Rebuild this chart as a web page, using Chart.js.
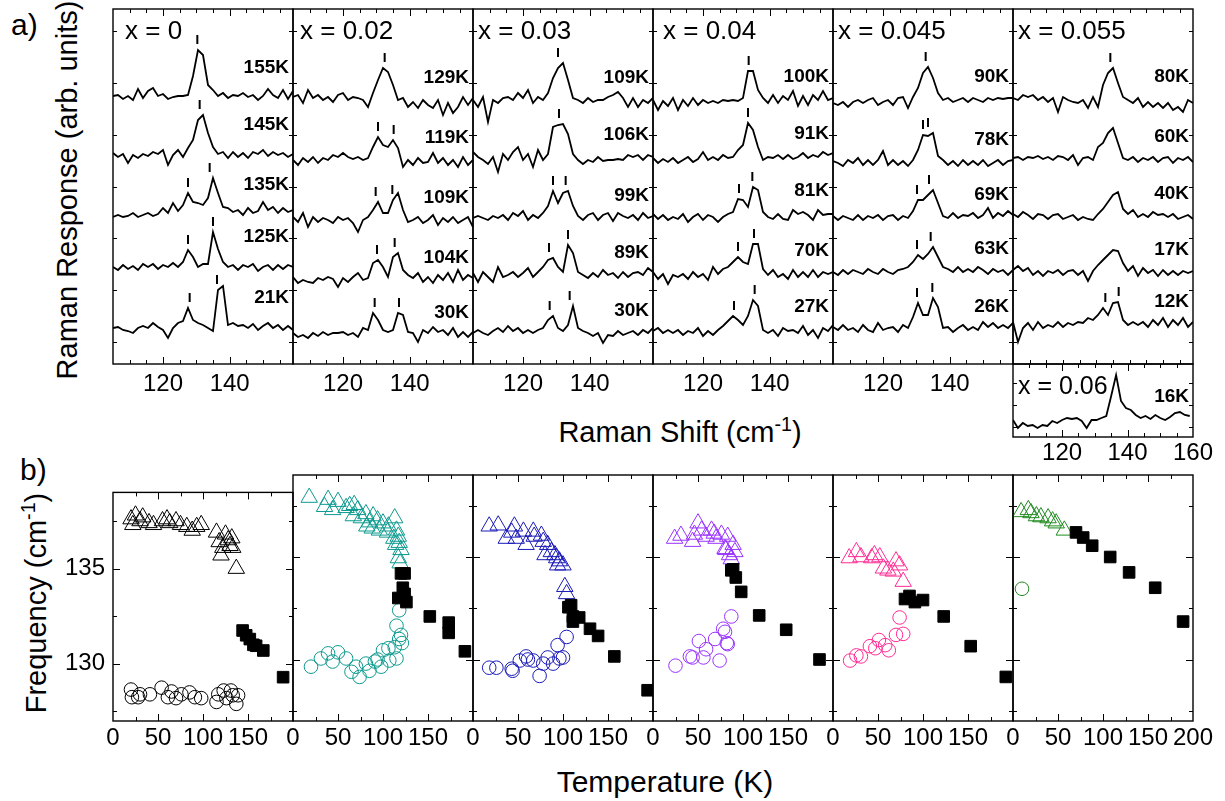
<!DOCTYPE html>
<html lang="en">
<head>
<meta charset="UTF-8">
<title>Raman spectra and phonon frequencies</title>
<style>
  body { margin: 0; background: #fff; }
  #fig { position: relative; width: 1225px; height: 801px; overflow: hidden;
         font-family: "Liberation Sans", Arial, Helvetica, sans-serif; color: #000; }
  #fig canvas { position: absolute; }
  .lbl { position: absolute; white-space: nowrap; line-height: 1; }
  .rot { transform: translate(-50%, -50%) rotate(-90deg); }
  .mid { transform: translate(-50%, -50%); }
  sup { font-size: 0.68em; vertical-align: super; line-height: 0; }
</style>
</head>
<body>
<div id="fig">
  <div class="lbl" style="left:11px;top:10px;font-size:30px">a)</div>
  <div class="lbl" style="left:20px;top:455px;font-size:30px">b)</div>
  <div class="lbl rot" style="left:67px;top:190px;font-size:29px">Raman Response (arb. units)</div>
  <div class="lbl mid" style="left:680px;top:432px;font-size:29px">Raman Shift (cm<sup>-1</sup>)</div>
  <div class="lbl rot" style="left:36px;top:603px;font-size:29px">Frequency (cm<sup>-1</sup>)</div>
  <div class="lbl mid" style="left:665px;top:782px;font-size:30px">Temperature (K)</div>
</div>
<script src="https://cdn.jsdelivr.net/npm/chart.js"></script>
<script>
// Raman shift grid (cm-1) shared by every spectrum
const shift = [105, 106.5, 108, 109.5, 111, 112.5, 114, 115.5, 117, 118.5, 120, 121.5, 123, 124.5, 126,
  127.5, 129, 130.5, 132, 133.5, 135, 136.5, 138, 139.5, 141, 142.5, 144, 145.5, 147, 148.5, 150,
  151.5, 153, 154.5, 156, 157.5, 159];

// x = 0 spectra (intensity above own baseline)
const s0_155 = [2,3,-1,2,-2,9,0,7,10,2,4,-1,1,2,2,3,22,48,43,13,8,2,5,0,3,2,5,1,3,-2,2,9,3,0,8,-1,7];
const s0_145 = [2,-2,1,-8,0,-3,1,-1,3,1,5,-10,0,5,-2,7,15,35,40,22,8,1,3,-3,3,-2,2,-3,3,1,5,-1,3,0,2,-2,1];
const s0_135 = [-2,0,-2,-1,2,-2,0,2,-1,1,7,2,12,4,10,22,13,12,10,17,37,22,8,7,3,5,0,7,2,4,13,5,8,2,7,3,5];
const s0_125 = [0,-3,2,-2,1,-3,3,0,3,-2,2,0,4,0,5,17,10,0,3,3,35,18,5,0,2,-3,2,0,3,-4,0,2,-3,2,-2,2,0];
const s0_21  = [0,1,-2,-3,-5,0,2,0,5,1,-2,-10,0,5,7,20,8,5,3,0,-3,38,42,3,5,2,3,0,4,-2,2,5,0,3,-2,2,-2];

// x = 0.02
const s2_129 = [3,5,-3,10,2,5,0,3,-2,5,7,0,3,2,0,-7,7,20,32,28,15,0,2,-7,-2,-8,0,-5,-8,0,-15,-3,-13,-7,3,-5,2];
const s2_119 = [0,-5,2,-2,3,-3,2,0,5,3,7,3,1,3,0,2,13,23,15,13,20,12,-7,0,-5,2,-3,-2,7,-3,2,-5,0,-7,3,-5,0];
const s2_109 = [3,-2,7,-7,3,-2,2,0,-3,3,0,2,-3,-12,0,3,10,18,7,7,20,27,10,-2,0,3,-3,0,5,-5,2,-2,3,-3,0,3,-7];
const s2_104 = [3,-3,0,-2,-3,2,0,3,1,-7,2,-2,3,7,0,2,17,20,13,3,23,27,10,5,2,7,-2,3,-3,5,0,7,-2,10,0,5,2];
const s2_30  = [2,-2,0,-3,2,-1,3,0,2,2,3,0,2,-2,7,5,22,15,5,3,5,22,20,3,2,-7,5,2,8,3,5,0,7,-2,3,-2,3];

// x = 0.03
const s3_109 = [0,-7,3,-22,0,-3,2,3,0,7,2,10,-3,3,0,7,22,32,37,20,2,0,-3,2,-2,0,0,3,5,8,2,-7,2,-7,0,-3,2];
const s3_106 = [5,0,-3,-7,0,-15,3,-3,5,10,-3,3,-10,7,-3,3,30,32,33,23,3,-3,-7,-3,-5,0,-4,-3,-3,-2,-3,2,0,2,-3,2,0];
const s3_99  = [0,2,0,-2,2,0,3,-2,5,2,7,-2,3,0,5,12,27,15,25,27,12,2,-2,3,5,-2,3,5,-3,5,2,0,3,-2,5,0,2];
const s3_89  = [2,-7,3,-2,-7,8,-2,0,3,-2,2,7,-2,3,8,15,17,8,3,30,22,3,0,-3,2,-2,5,0,2,-3,3,-2,2,3,0,7,3];
const s3_30  = [0,3,0,-2,2,5,1,7,2,5,0,3,0,3,5,13,17,5,2,8,27,5,2,0,-3,0,-10,-2,-3,2,-2,0,2,-2,3,0,5];

// x = 0.04
const s4_100 = [3,-7,2,-3,5,-7,3,-3,5,-2,3,0,2,0,3,2,3,2,5,32,32,13,5,0,8,0,7,3,12,-3,7,-2,8,3,12,3,5];
const s4_91  = [2,-3,1,-2,2,-3,0,3,-2,1,8,0,3,0,5,2,3,10,15,37,30,13,0,3,2,5,1,5,1,3,7,2,5,3,8,5,7];
const s4_81  = [3,-2,2,-3,0,-2,3,-5,0,3,-3,2,0,-5,0,3,5,18,17,10,30,27,5,0,-2,3,-2,-3,7,3,5,2,-3,7,2,3,3];
const s4_70  = [5,-2,3,-7,2,0,3,-2,5,0,3,-3,10,3,8,10,15,20,15,13,33,33,8,2,7,0,3,-2,7,0,5,0,7,0,5,3,5];
const s4_27  = [2,5,0,3,0,3,-2,2,0,5,-3,2,-2,3,7,12,17,13,8,17,33,27,3,0,3,-3,5,2,3,0,7,-2,3,-5,5,2,8];

// x = 0.045
const s5_90 = [-3,-5,-2,-7,-2,0,-3,0,2,-5,-2,0,-5,2,3,-8,3,12,27,33,22,7,0,2,-2,0,2,-2,2,0,-2,2,0,2,1,2,2];
const s5_78 = [2,0,-3,3,0,5,-2,3,-2,3,12,-2,3,-2,2,-3,3,13,28,27,30,7,3,-2,2,-3,3,-2,2,-2,3,-3,0,3,-2,2,3];
const s5_69 = [2,-2,2,0,-2,3,-2,2,0,3,-2,2,3,-2,2,0,7,18,18,23,28,15,2,0,5,0,3,2,5,0,3,10,0,5,2,7,3];
const s5_63 = [0,-3,2,-2,2,0,-2,3,0,-2,3,0,-2,2,3,5,10,17,13,18,25,15,5,3,0,5,0,3,0,5,2,-2,3,0,2,-3,2];
const s5_26 = [3,0,5,0,2,-2,5,0,-2,7,0,2,3,-2,5,2,13,27,15,15,32,23,2,3,-2,2,5,0,3,0,8,3,7,2,5,2,7];

// x = 0.055
const s6_80 = [2,0,5,3,5,0,3,-2,2,-12,3,0,-2,-3,0,-8,3,-7,15,27,32,17,3,0,-3,2,-7,-2,-7,-3,-8,-3,-10,-7,-12,0,-3];
const s6_60 = [2,3,0,3,2,4,1,3,0,4,3,0,5,-5,2,3,0,13,17,27,32,17,2,0,3,-2,2,0,3,-2,2,3,-3,2,0,3,-2];
const s6_40 = [3,0,5,2,-2,3,2,-2,2,3,-2,0,2,-3,0,-2,-3,3,8,15,22,25,8,3,7,0,3,0,5,2,3,0,3,-2,0,2,-2];
const s6_17 = [3,7,2,5,-2,2,-3,2,0,3,-2,2,3,-2,2,-8,2,8,13,18,23,22,10,2,7,-3,5,0,3,-3,3,-2,2,-2,2,0,2];
const s6_12 = [3,-17,-3,2,-5,3,-3,0,-2,3,-2,2,0,3,2,7,5,10,17,10,22,23,5,0,3,0,3,-2,5,0,7,-2,5,0,7,-2,3];

// x = 0.06 inset
const s7_16 = [17,9,14,11,12,9,12,11,16,14,17,19,18,19,16,9,17,17,19,21,41,62,36,29,27,22,19,21,18,22,19,17,20,24,25,22,21];

// vertical offsets of the stacked spectra
const off0 = [266, 209, 149, 97, 36];
const off2 = [264, 204, 144, 84, 29];
const off3 = [264, 207, 146, 89, 31];
const off4 = [261, 204, 147, 87, 31];
const off5 = [264, 201, 146, 92, 34];
const off6 = [264, 204, 147, 91, 39];

const temps0 = ['155K', '145K', '135K', '125K', '21K'];
const temps2 = ['129K', '119K', '109K', '104K', '30K'];
const temps3 = ['109K', '106K', '99K', '89K', '30K'];
const temps4 = ['100K', '91K', '81K', '70K', '27K'];
const temps5 = ['90K', '78K', '69K', '63K', '26K'];
const temps6 = ['80K', '60K', '40K', '17K', '12K'];

// peak positions marked with a dash (cm-1)
const marks0 = [[130.3], [131], [127.5, 134], [127.5, 135], [128, 136.2]];
const marks2 = [[132.5], [130.5, 135.2], [129.8, 134.8], [130.2, 135.5], [129.5, 136.8]];
const marks3 = [[130.5], [130.8], [129, 132.8], [127.8, 133.5], [128, 134]];
const marks4 = [[133.7], [133.5], [130.8, 134.8], [130.5, 135.3], [129.3, 135.5]];
const marks5 = [[132.8], [132, 133.5], [130.2, 133.8], [130.2, 134.3], [130.2, 134.8]];
const marks6 = [[134.2], [], [], [], [132.7, 136.7]];

// b) frequency vs temperature: [T (K), frequency (cm-1)]
const tri0 = [[20,137.6],[22,137.3],[25,137.8],[30,137.5],[33,137.7],[40,137.4],[45,137.3],[55,137.5],[60,137.6],[63,137.4],[70,137.5],[75,137.3],[82,137.2],[88,137.0],[93,137.2],[98,137.3],[115,136.9],[118,136.4],[122,136.1],[125,136.8],[128,136.5],[130,136.2],[132,136.6],[133,136.1],[120,135.7],[137,135.0]];
const cir0 = [[20,128.65],[21,128.25],[28,128.25],[30,128.4],[41,128.4],[54,128.75],[61,128.25],[65,128.55],[70,128.2],[76,128.4],[85,128.5],[91,128.25],[98,128.2],[115,128.0],[117,128.4],[123,128.6],[126,128.2],[131,128.6],[133,128.35],[137,127.9],[139,128.35]];
const sq0 = [[144,131.75],[148,131.5],[152,131.3],[156,131.0],[159,130.95],[167,130.7],[189,129.3]];

const tri2 = [[18,137.9],[35,137.45],[39,137.8],[44,137.3],[50,137.7],[59,137.4],[63,137.5],[68,137.55],[72,137.3],[67,137.0],[76,136.9],[81,137.1],[82,136.5],[85,136.7],[88,136.4],[89,137.0],[94,136.8],[96,136.3],[100,136.65],[105,136.2],[106,136.5],[112,135.9],[113,136.9],[114,135.6],[115,136.3],[117,136.0],[118,135.7],[120,135.35],[117,134.95],[119,134.7]];
const cir2 = [[20,129.65],[31,130.05],[39,130.3],[44,129.9],[50,130.35],[59,130.05],[65,129.4],[70,129.65],[74,129.15],[81,129.8],[85,129.45],[91,129.9],[94,130.0],[98,129.65],[100,130.45],[106,130.55],[107,129.95],[113,130.6],[115,130.05],[118,131.0],[120,131.2],[121,130.8],[115,131.65],[118,132.4]];
const sq2 = [[120,134.2],[124,134.2],[122,133.5],[124,133.2],[117,133.0],[126,132.8],[152,132.1],[173,131.8],[173,131.3],[191,130.4]];

const tri3 = [[18,136.5],[28,136.55],[37,135.9],[43,136.2],[46,136.5],[48,135.9],[56,136.25],[59,135.6],[67,136.25],[68,136.0],[76,136.05],[78,135.75],[80,135.1],[83,135.6],[87,135.25],[91,135.1],[93,134.95],[96,134.8],[100,134.6],[94,134.6],[102,133.55],[104,133.2]];
const cir3 = [[18,129.6],[26,129.6],[43,129.55],[44,129.45],[52,129.95],[59,130.15],[61,130.0],[67,129.95],[74,129.2],[78,129.8],[83,130.1],[89,129.8],[94,130.7],[96,130.05],[100,130.1],[104,131.1]];
const sq3 = [[106,132.55],[109,132.65],[111,132.1],[111,131.85],[118,132.05],[130,131.5],[139,131.15],[157,130.15],[194,128.5]];

const tri4 = [[24,135.9],[31,136.05],[44,135.75],[46,136.1],[50,136.65],[54,136.3],[59,136.0],[65,136.3],[68,136.15],[70,135.9],[76,136.1],[80,135.4],[83,136.0],[81,135.35],[85,135.1],[87,134.9],[89,135.6],[91,135.25]];
const cir4 = [[25,129.7],[41,130.15],[44,130.1],[51,130.9],[56,130.1],[59,130.5],[69,131.0],[74,129.95],[78,131.5],[80,131.35],[82,130.8],[83,130.75],[87,132.1]];
const sq4 = [[87,134.35],[89,134.4],[92,134.0],[98,133.3],[118,132.15],[148,131.45],[185,130.0]];

const tri5 = [[18,134.95],[26,135.25],[31,135.0],[43,134.95],[46,135.1],[52,135.0],[56,134.45],[61,134.35],[67,134.3],[70,134.8],[74,134.6],[78,133.8]];
const cir5 = [[19,129.95],[26,130.2],[31,130.15],[41,130.65],[47,130.55],[51,130.95],[58,130.7],[62,130.45],[70,131.2],[74,132.05],[78,131.25]];
const sq5 = [[80,132.95],[85,133.1],[91,132.8],[100,132.9],[123,132.1],[153,130.65],[192,129.15]];

const tri6 = [[9,137.2],[17,137.3],[20,137.15],[26,137.0],[31,136.95],[39,136.9],[44,136.75],[48,136.65],[57,136.3]];
const cir6 = [[10,133.45]];
const sq6 = [[70,136.2],[78,135.95],[88,135.55],[108,135.0],[129,134.25],[158,133.5],[189,131.85]];

// ---- layout ----
const FONT = '"Liberation Sans", Arial, Helvetica, sans-serif';
const fig = document.getElementById('fig');
const colLeft = [113, 293, 473, 653, 833, 1013];
const colW = 180;
const aTop = 9, aH = 355;
const insTop = 364, insH = 73;
const bTop = 475, bH = 246;

Chart.defaults.font.family = FONT;
Chart.defaults.color = '#000';
Chart.defaults.animation = false;

function addCanvas(left, top, w, h) {
  const c = document.createElement('canvas');
  c.width = w; c.height = h;
  c.style.left = left + 'px'; c.style.top = top + 'px';
  c.style.width = w + 'px'; c.style.height = h + 'px';
  fig.appendChild(c);
  return c;
}

// box with inward ticks on all four sides
function framePlugin(xMajor, yMajor) {
  return {
    id: 'frame',
    afterDraw(chart) {
      const {ctx, chartArea: a, scales: {x, y}} = chart;
      ctx.save();
      ctx.strokeStyle = '#000';
      ctx.lineWidth = 1;
      ctx.beginPath();
      x.ticks.forEach(t => {
        if (t.value <= x.min || t.value >= x.max) return;
        const px = Math.round(x.getPixelForValue(t.value)) + 0.5;
        const len = xMajor.includes(t.value) ? 7 : 4;
        ctx.moveTo(px, a.bottom); ctx.lineTo(px, a.bottom - len);
        ctx.moveTo(px, a.top); ctx.lineTo(px, a.top + len);
      });
      y.ticks.forEach(t => {
        if (t.value <= y.min || t.value >= y.max) return;
        const py = Math.round(y.getPixelForValue(t.value)) + 0.5;
        const len = yMajor.includes(t.value) ? 7 : 4;
        ctx.moveTo(a.left, py); ctx.lineTo(a.left + len, py);
        ctx.moveTo(a.right, py); ctx.lineTo(a.right - len, py);
      });
      ctx.stroke();
      ctx.lineWidth = 1.4;
      ctx.strokeRect(a.left, a.top, a.right - a.left, a.bottom - a.top);
      ctx.restore();
    }
  };
}

// panel name and temperature labels
function notesPlugin(name, nameDx, nameSize, temps, offsets, lift) {
  return {
    id: 'notes',
    afterDatasetsDraw(chart) {
      const {ctx, chartArea: a, scales: {y}} = chart;
      ctx.save();
      ctx.fillStyle = '#000';
      ctx.textBaseline = 'alphabetic';
      ctx.textAlign = 'left';
      ctx.font = nameSize + 'px ' + FONT;
      ctx.fillText(name, a.left + nameDx, a.top + 30);
      ctx.font = 'bold 19px ' + FONT;
      ctx.textAlign = 'right';
      temps.forEach((t, k) => ctx.fillText(t, a.right - 4, y.getPixelForValue(offsets[k] + lift)));
      ctx.restore();
    }
  };
}

function markData(spectra, offsets, marks) {
  const pts = [];
  marks.forEach((list, k) => list.forEach(pos => {
    let top = -Infinity;
    shift.forEach((x, i) => { if (Math.abs(x - pos) <= 1.6) top = Math.max(top, spectra[k][i]); });
    const y0 = offsets[k] + top + 6;
    pts.push({x: pos, y: y0}, {x: pos, y: y0 + 9}, {x: pos, y: null});
  }));
  return pts;
}

function spectraChart(o) {
  const padL = 20, padR = 25, padT = 5, padB = o.labels.length ? 40 : 4;
  const W = padL + colW + padR, H = padT + o.height + padB;
  const canvas = addCanvas(o.left - padL, o.top - padT, W, H);
  const datasets = o.spectra.map((s, k) => ({
    data: shift.map((x, i) => ({x: x, y: o.offsets[k] + s[i]})),
    borderColor: '#000', borderWidth: 1.8, pointRadius: 0, tension: 0, fill: false
  }));
  if (o.marks) {
    datasets.push({
      data: markData(o.spectra, o.offsets, o.marks),
      borderColor: '#000', borderWidth: 2, pointRadius: 0, spanGaps: false, fill: false
    });
  }
  new Chart(canvas, {
    type: 'line',
    data: {datasets},
    options: {
      responsive: false,
      layout: {padding: {top: padT, right: padR, left: 0, bottom: 0}, autoPadding: false},
      plugins: {legend: {display: false}, tooltip: {enabled: false}},
      scales: {
        x: {
          type: 'linear', min: 105, max: o.xMax,
          afterBuildTicks: s => { s.ticks = o.xTicks.map(v => ({value: v})); },
          afterFit: s => { s.height = padB; },
          grid: {display: false, drawTicks: false}, border: {display: false},
          ticks: {display: o.labels.length > 0, autoSkip: false, maxRotation: 0, padding: o.labelPad,
                  font: {size: 24}, callback: v => o.labels.includes(v) ? String(v) : ''}
        },
        y: {
          min: 0, max: o.height,
          afterBuildTicks: s => { s.ticks = o.yTicks.map(v => ({value: v})); },
          afterFit: s => { s.width = padL; },
          grid: {display: false, drawTicks: false}, border: {display: false},
          ticks: {display: false}
        }
      }
    },
    plugins: [framePlugin(o.labels, []), notesPlugin(o.name, o.nameDx, o.nameSize, o.temps, o.offsets, o.lift)]
  });
}

const ticksA = [];
for (let v = 110; v <= 155; v += 5) ticksA.push(v);
const yTicksA = [22, 74, 126, 177, 229, 281, 333];

const panelsA = [
  {name: 'x = 0', dx: 12, lift: 25, spectra: [s0_155, s0_145, s0_135, s0_125, s0_21], offsets: off0, temps: temps0, marks: marks0},
  {name: 'x = 0.02', dx: 7, lift: 17, spectra: [s2_129, s2_119, s2_109, s2_104, s2_30], offsets: off2, temps: temps2, marks: marks2},
  {name: 'x = 0.03', dx: 5, lift: 17, spectra: [s3_109, s3_106, s3_99, s3_89, s3_30], offsets: off3, temps: temps3, marks: marks3},
  {name: 'x = 0.04', dx: 10, lift: 21, spectra: [s4_100, s4_91, s4_81, s4_70, s4_27], offsets: off4, temps: temps4, marks: marks4},
  {name: 'x = 0.045', dx: 5, lift: 18, spectra: [s5_90, s5_78, s5_69, s5_63, s5_26], offsets: off5, temps: temps5, marks: marks5},
  {name: 'x = 0.055', dx: 5, lift: 18, spectra: [s6_80, s6_60, s6_40, s6_17, s6_12], offsets: off6, temps: temps6, marks: marks6}
];

panelsA.forEach((p, k) => spectraChart({
  left: colLeft[k], top: aTop, height: aH, xMax: 159, xTicks: ticksA,
  labels: k < 5 ? [120, 140] : [], labelPad: 6, yTicks: yTicksA,
  name: p.name, nameDx: p.dx, nameSize: 26, spectra: p.spectra, offsets: p.offsets,
  temps: p.temps, lift: p.lift, marks: p.marks
}));

// inset x = 0.06
spectraChart({
  left: colLeft[5], top: insTop, height: insH, xMax: 160, xTicks: ticksA.concat([160]),
  labels: [120, 140, 160], labelPad: 2, yTicks: [10, 32, 54],
  name: 'x = 0.06', nameDx: 5, nameSize: 25, spectra: [s7_16], offsets: [0],
  temps: ['16K'], lift: 35, marks: null
});

// ---- b) panels ----
const colorsB = ['#000000', '#0d9a8f', '#1a1ab8', '#9933ff', '#ff2b94', '#1f8a1f'];
const seriesB = [[tri0, cir0, sq0], [tri2, cir2, sq2], [tri3, cir3, sq3], [tri4, cir4, sq4], [tri5, cir5, sq5], [tri6, cir6, sq6]];
const ticksB = [0, 25, 50, 75, 100, 125, 150, 175, 200];

seriesB.forEach((set, k) => {
  const padL = k === 0 ? 60 : 20, padR = 25, padT = 5, padB = 40;
  const W = padL + colW + padR, H = padT + bH + padB;
  const canvas = addCanvas(colLeft[k] - padL, bTop - padT, W, H);
  const pts = arr => arr.map(p => ({x: p[0], y: p[1]}));
  const color = colorsB[k];
  const xLabels = k === 5 ? [0, 50, 100, 150, 200] : [0, 50, 100, 150];
  new Chart(canvas, {
    type: 'scatter',
    data: {
      datasets: [
        {data: pts(set[2]), pointStyle: 'rect', pointRadius: 8.2, backgroundColor: '#000', borderColor: '#000', borderWidth: 1},
        {data: pts(set[0]), pointStyle: 'triangle', pointRadius: 9.5, backgroundColor: 'rgba(0,0,0,0)', borderColor: color, borderWidth: 1},
        {data: pts(set[1]), pointStyle: 'circle', pointRadius: 6.8, backgroundColor: 'rgba(0,0,0,0)', borderColor: color, borderWidth: 1}
      ]
    },
    options: {
      responsive: false,
      layout: {padding: {top: padT, right: padR, left: 0, bottom: 0}, autoPadding: false},
      plugins: {legend: {display: false}, tooltip: {enabled: false}},
      scales: {
        x: {
          type: 'linear', min: 0, max: 200,
          afterBuildTicks: s => { s.ticks = ticksB.map(v => ({value: v})); },
          afterFit: s => { s.height = padB; },
          grid: {display: false, drawTicks: false}, border: {display: false},
          ticks: {autoSkip: false, maxRotation: 0, padding: 3, font: {size: 24},
                  callback: v => xLabels.includes(v) ? String(v) : ''}
        },
        y: {
          min: 127, max: 139,
          afterBuildTicks: s => { s.ticks = [127.5, 130, 132.5, 135, 137.5].map(v => ({value: v})); },
          afterFit: s => { s.width = padL; },
          grid: {display: false, drawTicks: false}, border: {display: false},
          ticks: {display: k === 0, padding: 8, font: {size: 24},
                  callback: v => (v === 130 || v === 135) ? String(v) : ''}
        }
      }
    },
    plugins: [framePlugin([50, 100, 150], [130, 135])]
  });
});
</script>
</body>
</html>
